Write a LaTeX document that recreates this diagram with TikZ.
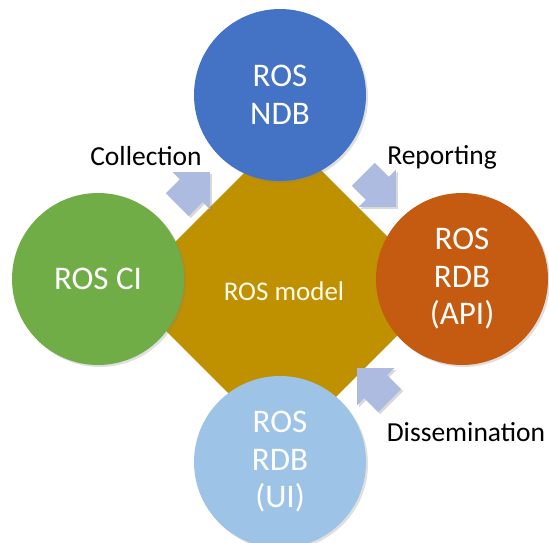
\documentclass[tikz,border=0pt]{standalone}
\usepackage{fontspec}
\setmainfont{Carlito}
\usetikzlibrary{shapes.geometric,shapes.arrows,shadows}
\definecolor{ndbblue}{HTML}{4472C4}
\definecolor{cigreen}{HTML}{70AD47}
\definecolor{apiorange}{HTML}{C55A11}
\definecolor{uiblue}{HTML}{9DC3E6}
\definecolor{modelgold}{HTML}{BF9000}
\definecolor{flowblue}{RGB}{174,187,224}
\definecolor{modeltext}{RGB}{255,250,236}

\begin{document}
\begin{tikzpicture}[x=1pt,y=-1pt,
  ros/.style={circle,minimum size=172pt,inner sep=0pt,text=white,align=center,
    font=\fontsize{33}{37.5}\selectfont,
    drop shadow={opacity=0.25,shadow xshift=2pt,shadow yshift=-2pt}},
  flow/.style={single arrow,fill=flowblue,minimum height=46pt,
    single arrow head extend=10pt,single arrow tip angle=90,inner xsep=0pt,inner ysep=16pt,
    anchor=tip,drop shadow={opacity=0.3,shadow xshift=2pt,shadow yshift=-2pt}},
  lbl/.style={font=\fontsize{27.5}{33}\selectfont,anchor=base}]
\useasboundingbox (0,0) rectangle (549,542);
\clip (0,0) rectangle (549,542);

% model in the middle
\node[diamond,fill=modelgold,minimum width=316pt,minimum height=316pt,inner sep=0pt,
  text=modeltext,font=\fontsize{27}{32}\selectfont] (model) at (284,291) {ROS model};

%------------------------------------------------
\node[ros,fill=ndbblue] (ndb) at (280,95) {ROS\\NDB};
\node[ros,fill=cigreen] (ci) at (98,279) {ROS CI};
\node[ros,fill=apiorange] (api) at (462,279) {ROS\\RDB\\(API)};
\node[ros,fill=uiblue] (ui) at (280,462) {ROS\\RDB\\(UI)};

%------------------------------------------------
\node[flow,rotate=45] (collect) at (210,172) {};
\node[flow,rotate=-45] (report) at (396,207) {};
\node[flow,rotate=135] (dissem) at (357,368) {};

\node[lbl] (collectlbl) at (146,165) {Collection};
\node[lbl] (reportlbl) at (442,164.5) {Reporting};
\node[lbl] (dissemlbl) at (466,441.5) {Dissemination};
\end{tikzpicture}
\end{document}
